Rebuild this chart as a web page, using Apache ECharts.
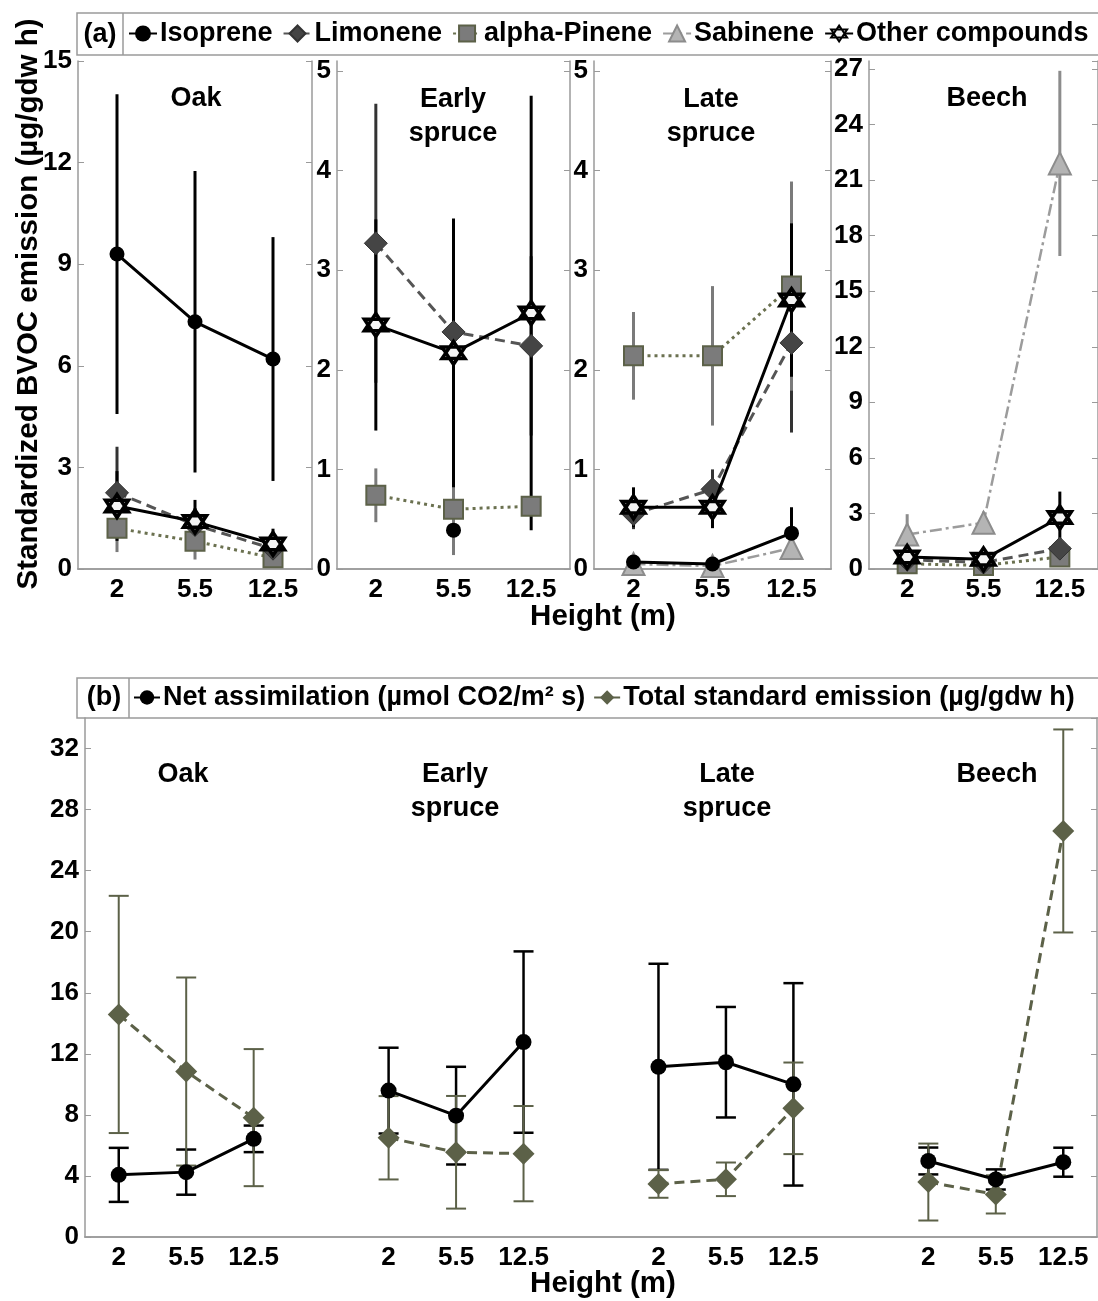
<!DOCTYPE html>
<html><head><meta charset="utf-8">
<script src="https://cdn.jsdelivr.net/npm/echarts@6/dist/echarts.min.js"></script>
<style>html,body{margin:0;padding:0;background:#fff}#c{width:1098px;height:1301px}</style>
</head><body><div id="c"></div>
<script>
// ---------------- DATA ----------------
const heights = ['2', '5.5', '12.5'];
const species = ['Oak', 'Early\nspruce', 'Late\nspruce', 'Beech'];
const compounds = ['Isoprene', 'Limonene', 'alpha-Pinene', 'Sabinene', 'Other compounds'];
const topYMax = [15, 5.1, 5.1, 27.43];
const topYInterval = [3, 1, 1, 3];

// panel (a): mean and +/- error per species (rows) and height (columns)
const isopreneMean = [[9.3, 7.3, 6.2], [null, 0.39, null], [0.07, 0.05, 0.36], [null, null, null]];
const isopreneErr  = [[4.72, 4.45, 3.6], [null, null, null], [null, null, 0.26], [null, null, null]];
const limoneneMean = [[2.25, 1.3, 0.6], [3.27, 2.38, 2.24], [0.55, 0.8, 2.27], [0.5, 0.35, 1.1]];
const limoneneErr  = [[1.36, 0.5, 0.3], [1.4, 0.9, 0.9], [0.15, 0.2, 0.9], [0.2, 0.15, 0.4]];
const pineneMean   = [[1.2, 0.82, 0.33], [0.74, 0.6, 0.63], [2.14, 2.14, 2.84], [0.28, 0.19, 0.65]];
const pineneErr    = [[0.7, 0.54, 0.2], [0.27, 0.46, 0.1], [0.44, 0.7, 1.05], [0.1, 0.1, 0.25]];
const sabineneMean = [[null, null, null], [null, null, null], [0.05, 0.03, 0.21], [1.86, 2.5, 21.9]];
const sabineneErr  = [[null, null, null], [null, null, null], [0.03, 0.02, 0.12], [1.1, 0.6, 5.0]];
const otherMean    = [[1.86, 1.4, 0.74], [2.45, 2.17, 2.57], [0.62, 0.62, 2.7], [0.65, 0.52, 2.78]];
const otherErr     = [[1.03, 0.64, 0.45], [1.06, 1.35, 2.18], [0.2, 0.21, 0.77], [0.2, 0.15, 1.4]];

// panel (b)
const bottomSeriesNames = ['Net assimilation (µmol CO2/m² s)', 'Total standard emission (µg/gdw h)'];
const netMean   = [[4.07, 4.25, 6.43], [9.59, 7.95, 12.77], [11.15, 11.45, 10.0], [4.98, 3.77, 4.9]];
const netErr    = [[1.77, 1.48, 0.87], [2.81, 3.2, 5.94], [6.75, 3.62, 6.63], [0.88, 0.66, 0.95]];
const totalMean = [[14.58, 10.84, 7.82], [6.5, 5.55, 5.46], [3.48, 3.78, 8.43], [3.6, 2.79, 26.6]];
const totalErr  = [[7.77, 6.16, 4.49], [2.73, 3.69, 3.12], [0.91, 1.1, 3.0], [2.52, 1.25, 6.65]];

// ---------------- STYLE / LAYOUT ----------------
const FONT = '"Liberation Sans", Arial, Helvetica, sans-serif';
const AX = '#9a9a9a';
const OLIVE = '#5c6148';
const HEX = 'path://M0,-10L2.887,-5L8.66,-5L5.774,0L8.66,5L2.887,5L0,10L-2.887,5L-8.66,5L-5.774,0L-8.66,-5L-2.887,-5Z M2.887,-5L5.774,0L2.887,5L-2.887,5L-5.774,0L-2.887,-5Z';
const topGrids = [
  {left: 78, top: 61, width: 234, height: 508},
  {left: 337, top: 61, width: 233, height: 508},
  {left: 594, top: 61, width: 237, height: 508},
  {left: 869, top: 61, width: 236, height: 508}
];
const bottomGrid = {left: 85, top: 718, width: 1012, height: 519};

const compMeans = [isopreneMean, limoneneMean, pineneMean, sabineneMean, otherMean];
const compErrs = [isopreneErr, limoneneErr, pineneErr, sabineneErr, otherErr];
const compStyle = [
  {symbol: 'circle', size: 15, color: '#000', border: '#000', bw: 0, line: '#000', lw: 3, type: 'solid', err: '#000', z: 6},
  {symbol: 'diamond', size: 23, color: '#454545', border: '#333', bw: 1, line: '#555', lw: 3, type: [10, 6], err: '#333', z: 4},
  {symbol: 'rect', size: 19, color: '#7b7b7b', border: OLIVE, bw: 2, line: '#6b7150', lw: 3, type: [3, 4], err: '#7a7a7a', z: 3},
  {symbol: 'triangle', size: 22, color: '#b4b4b4', border: '#8c8c8c', bw: 2, line: '#9c9c9c', lw: 2.5, type: [12, 4, 3, 4], err: '#8c8c8c', z: 3},
  {symbol: HEX, size: 23, color: '#f4f4f4', border: '#000', bw: 3.5, line: '#000', lw: 3, type: 'solid', err: '#000', z: 7}
];

function errRender(color, width, capHalf) {
  return function (params, api) {
    const x = api.value(0);
    const p1 = api.coord([x, api.value(1)]);
    const p2 = api.coord([x, api.value(2)]);
    const st = {stroke: color, lineWidth: width};
    const children = [{type: 'line', shape: {x1: p1[0], y1: p1[1], x2: p2[0], y2: p2[1]}, style: st}];
    if (capHalf) {
      children.push({type: 'line', shape: {x1: p1[0] - capHalf, y1: p1[1], x2: p1[0] + capHalf, y2: p1[1]}, style: st});
      children.push({type: 'line', shape: {x1: p2[0] - capHalf, y1: p2[1], x2: p2[0] + capHalf, y2: p2[1]}, style: st});
    }
    return {type: 'group', children: children};
  };
}

const labelStyle = {color: '#000', fontWeight: 'bold', fontSize: 26, fontFamily: FONT};
const xAxes = [], yAxes = [], grids = [], series = [];

topGrids.forEach((g, p) => {
  grids.push(g);
  xAxes.push({type: 'category', gridIndex: p, data: heights, position: 'bottom',
    axisLine: {lineStyle: {color: AX, width: 1.5}}, axisTick: {inside: true, alignWithLabel: true, length: 6, lineStyle: {color: AX}},
    axisLabel: Object.assign({margin: 8}, labelStyle)});
  xAxes.push({type: 'category', gridIndex: p, data: heights, position: 'top',
    axisLine: {lineStyle: {color: AX, width: 1.5}}, axisTick: {inside: true, alignWithLabel: true, length: 6, lineStyle: {color: AX}},
    axisLabel: {show: false}});
  const showMax = Math.abs(topYMax[p] / topYInterval[p] - Math.round(topYMax[p] / topYInterval[p])) < 1e-9;
  yAxes.push({type: 'value', gridIndex: p, min: 0, max: topYMax[p], interval: topYInterval[p], position: 'left',
    splitLine: {show: false}, axisLine: {show: true, lineStyle: {color: AX, width: 1.5}},
    axisTick: {show: true, inside: true, length: 6, lineStyle: {color: AX}},
    axisLabel: Object.assign({margin: 6, showMaxLabel: showMax}, labelStyle)});
  yAxes.push({type: 'value', gridIndex: p, min: 0, max: topYMax[p], interval: topYInterval[p], position: 'right',
    splitLine: {show: false}, axisLine: {show: true, lineStyle: {color: AX, width: 1.5}},
    axisTick: {show: true, inside: true, length: 6, lineStyle: {color: AX}}, axisLabel: {show: false}});

  compounds.forEach((name, c) => {
    const s = compStyle[c];
    const m = compMeans[c][p], e = compErrs[c][p];
    const errData = [];
    heights.forEach((h, i) => {
      if (m[i] != null && e[i] != null) errData.push([i, m[i] - e[i], m[i] + e[i]]);
    });
    series.push({type: 'custom', name: name + ' error', xAxisIndex: 2 * p, yAxisIndex: 2 * p,
      renderItem: errRender(s.err, 3, 0), data: errData, encode: {x: 0, y: [1, 2]}, z: 1, silent: true});
  });
  compounds.forEach((name, c) => {
    const s = compStyle[c];
    const m = compMeans[c][p];
    series.push({type: 'line', name: name, xAxisIndex: 2 * p, yAxisIndex: 2 * p,
      data: heights.map((h, i) => [i, m[i]]),
      symbol: s.symbol, symbolSize: s.size, showAllSymbol: true,
      itemStyle: {color: s.color, borderColor: s.border, borderWidth: s.bw, opacity: 1},
      lineStyle: {color: s.line, width: s.lw, type: s.type},
      z: s.z, animation: false});
  });
});

// bottom panel
const bottomCats = [];
species.forEach((s, g) => { heights.forEach(h => bottomCats.push(h)); if (g < species.length - 1) bottomCats.push(''); });
const bIdx = (g, i) => g * (heights.length + 1) + i;
grids.push(bottomGrid);
xAxes.push({type: 'category', gridIndex: 4, data: bottomCats, position: 'bottom',
  axisLine: {lineStyle: {color: AX, width: 1.5}},
  axisTick: {inside: true, alignWithLabel: true, length: 7, interval: (i, v) => v !== '', lineStyle: {color: AX}},
  axisLabel: Object.assign({margin: 8, interval: 0}, labelStyle)});
xAxes.push({type: 'category', gridIndex: 4, data: bottomCats, position: 'top',
  axisLine: {lineStyle: {color: AX, width: 1.5}}, axisTick: {show: false}, axisLabel: {show: false}});
yAxes.push({type: 'value', gridIndex: 4, min: 0, max: 34, interval: 4, position: 'left',
  splitLine: {show: false}, axisLine: {show: true, lineStyle: {color: AX, width: 1.5}},
  axisTick: {show: true, inside: true, length: 6, lineStyle: {color: AX}},
  axisLabel: Object.assign({margin: 6, showMaxLabel: false}, labelStyle)});
yAxes.push({type: 'value', gridIndex: 4, min: 0, max: 34, interval: 4, position: 'right',
  splitLine: {show: false}, axisLine: {show: true, lineStyle: {color: AX, width: 1.5}},
  axisTick: {show: true, inside: true, length: 6, lineStyle: {color: AX}}, axisLabel: {show: false}});

const bMeans = [netMean, totalMean], bErrs = [netErr, totalErr];
const bStyle = [
  {symbol: 'circle', size: 16, color: '#000', line: '#000', type: 'solid', err: '#000', ew: 2.5},
  {symbol: 'diamond', size: 22, color: OLIVE, line: OLIVE, type: [10, 6], err: OLIVE, ew: 2}
];
bottomSeriesNames.forEach((name, k) => {
  const errData = [];
  bMeans[k].forEach((row, g) => row.forEach((v, i) => {
    errData.push([bIdx(g, i), v - bErrs[k][g][i], v + bErrs[k][g][i]]);
  }));
  series.push({type: 'custom', name: name + ' error', xAxisIndex: 8, yAxisIndex: 8,
    renderItem: errRender(bStyle[k].err, bStyle[k].ew, 10), data: errData, encode: {x: 0, y: [1, 2]}, z: 1, silent: true});
});
bottomSeriesNames.forEach((name, k) => {
  const s = bStyle[k];
  bMeans[k].forEach((row, g) => {
    series.push({type: 'line', name: name, xAxisIndex: 8, yAxisIndex: 8,
      data: row.map((v, i) => [bIdx(g, i), v]),
      symbol: s.symbol, symbolSize: s.size, showAllSymbol: true,
      itemStyle: {color: s.color, opacity: 1},
      lineStyle: {color: s.line, width: 3, type: s.type},
      z: k === 0 ? 5 : 4, animation: false});
  });
});

const txt = (x, y, text, size, extra) => Object.assign({type: 'text', x: x, y: y,
  style: {text: text, fill: '#000', font: 'bold ' + size + 'px ' + FONT, textAlign: 'center', textVerticalAlign: 'middle', lineHeight: 34}}, extra || {});

const graphic = [
  {type: 'rect', shape: {x: 77, y: 13, width: 1040, height: 42}, style: {fill: 'none', stroke: AX, lineWidth: 1.5}},
  {type: 'line', shape: {x1: 123, y1: 13, x2: 123, y2: 55}, style: {stroke: AX, lineWidth: 1.5}},
  txt(100, 35, '(a)', 27),
  {type: 'rect', shape: {x: 77, y: 678, width: 1040, height: 40}, style: {fill: 'none', stroke: AX, lineWidth: 1.5}},
  {type: 'line', shape: {x1: 129, y1: 678, x2: 129, y2: 718}, style: {stroke: AX, lineWidth: 1.5}},
  txt(104, 698, '(b)', 27),
  txt(29, 304, 'Standardized BVOC emission (µg/gdw h)', 29.5, {rotation: Math.PI / 2}),
  txt(603, 617, 'Height (m)', 29.5),
  txt(603, 1284, 'Height (m)', 29.5),
  // panel titles (a)
  txt(196, 99, species[0], 27),
  txt(453, 117, species[1], 27),
  txt(711, 117, species[2], 27),
  txt(987, 99, species[3], 27),
  // panel titles (b)
  txt(183, 775, species[0], 27),
  txt(455, 792, species[1], 27),
  txt(727, 792, species[2], 27),
  txt(997, 775, species[3], 27)
];

const chart = echarts.init(document.getElementById('c'));
chart.setOption({
  animation: false,
  backgroundColor: '#fff',
  grid: grids,
  xAxis: xAxes,
  yAxis: yAxes,
  legend: [
    {data: compounds, left: 128, top: 20, itemGap: 10, itemWidth: 28, itemHeight: 20, padding: 0,
      textStyle: {color: '#000', fontWeight: 'bold', fontSize: 27, fontFamily: FONT, padding: [0, 0, 0, -2]}, selectedMode: false},
    {data: bottomSeriesNames, left: 133, top: 684, itemGap: 8, itemWidth: 26, itemHeight: 18, padding: 0,
      textStyle: {color: '#000', fontWeight: 'bold', fontSize: 27, fontFamily: FONT, padding: [0, 0, 0, -2]}, selectedMode: false}
  ],
  graphic: graphic,
  series: series
});
</script>
</body></html>
